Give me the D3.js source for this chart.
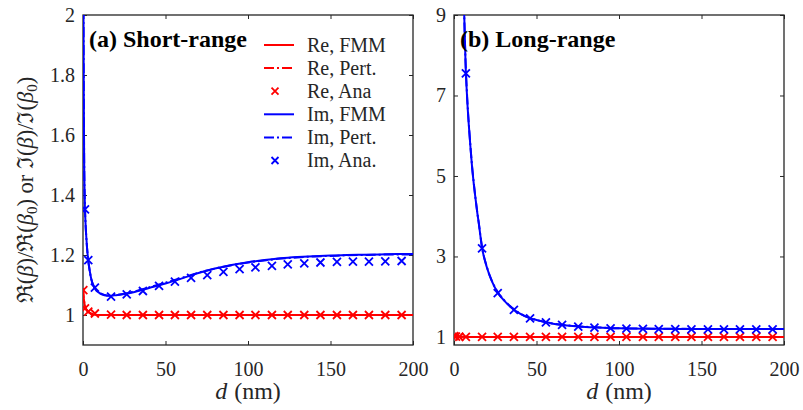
<!DOCTYPE html>
<html>
<head>
<meta charset="utf-8">
<script src="https://cdn.jsdelivr.net/npm/d3@7"></script>
<style>
  html, body { margin: 0; padding: 0; background: #fff; }
  svg { display: block; }
</style>
</head>
<body>
<svg id="chart" width="803" height="410"></svg>
<script>
// ---------- data ----------
const xTicks = [0, 50, 100, 150, 200];
const yTicksA = [1, 1.2, 1.4, 1.6, 1.8, 2];
const yTicksB = [1, 3, 5, 7, 9];
const legendLabels = ["Re, FMM", "Re, Pert.", "Re, Ana", "Im, FMM", "Im, Pert.", "Im, Ana."];

// Panel (a) short-range: Im curves
const dA = [0.05, 0.1, 0.2, 0.3, 0.5, 0.7, 1, 1.5, 2, 3, 4, 5, 7, 10, 13, 16, 20, 25, 30, 40, 50, 60, 70, 80, 90, 100, 110, 120, 130, 140, 150, 160, 170, 180, 190, 200];
const imFMM_A = [4.0, 3.0, 2.3, 2.0, 1.7, 1.52, 1.40, 1.31, 1.26, 1.19, 1.15, 1.12, 1.09, 1.073, 1.066, 1.064, 1.066, 1.07, 1.075, 1.09, 1.105, 1.122, 1.14, 1.155, 1.167, 1.176, 1.183, 1.189, 1.193, 1.196, 1.198, 1.2, 1.201, 1.202, 1.203, 1.203];
const imPert_A = [4.0, 3.0, 2.3, 2.0, 1.7, 1.52, 1.40, 1.31, 1.26, 1.19, 1.15, 1.12, 1.091, 1.074, 1.067, 1.065, 1.067, 1.071, 1.077, 1.092, 1.108, 1.124, 1.141, 1.155, 1.166, 1.175, 1.182, 1.188, 1.192, 1.195, 1.197, 1.199, 1.2, 1.201, 1.202, 1.202];
// Panel (a): Re curves
const dReA = [0.1, 0.2, 0.5, 1, 1.5, 2, 3, 4, 6, 10, 200];
const reFMM_A = [1.09, 1.075, 1.055, 1.035, 1.025, 1.018, 1.011, 1.007, 1.003, 1.0, 1.0];
const rePert_A = [1.09, 1.076, 1.056, 1.036, 1.026, 1.019, 1.012, 1.008, 1.003, 1.0, 1.0];

// Panel (b) long-range: Im curves
const dB = [3, 4, 5, 6, 7, 8, 9, 10, 11, 12, 13, 14, 15, 17, 20, 23, 27, 30, 35, 40, 45, 50, 55, 60, 70, 80, 90, 100, 120, 140, 160, 180, 200];
const imFMM_B = [20, 15, 11.5, 9.3, 7.8, 6.9, 6.25, 5.7, 5.2, 4.8, 4.45, 4.12, 3.83, 3.22, 2.72, 2.38, 2.07, 1.92, 1.72, 1.58, 1.48, 1.42, 1.37, 1.33, 1.28, 1.25, 1.23, 1.215, 1.205, 1.2, 1.2, 1.2, 1.2];
const imPert_B = [20, 15, 11.6, 9.35, 7.85, 6.95, 6.28, 5.72, 5.22, 4.82, 4.46, 4.13, 3.84, 3.23, 2.73, 2.39, 2.08, 1.93, 1.73, 1.585, 1.485, 1.422, 1.372, 1.332, 1.282, 1.252, 1.232, 1.216, 1.206, 1.201, 1.2, 1.2, 1.2];
// Panel (b): Re curves
const dReB = [0.05, 0.5, 1, 2, 4, 10, 200];
const reFMM_B = [1.05, 1.03, 1.02, 1.01, 1.005, 1.0, 1.0];
const rePert_B = [1.05, 1.03, 1.02, 1.01, 1.005, 1.0, 1.0];

// Analytical markers (shared d grid)
const dAna = [0.2, 1.2, 3.2, 7.2, 17, 26.5, 36.3, 46.1, 55.7, 65.5, 75.3, 85.1, 94.9, 104.5, 114.5, 124.1, 134.1, 143.9, 153.9, 163.6, 173.3, 183.2, 193.1];
const reAna_A = [1.083, 1.022, 1.011, 1.005, 1.001, 1.0, 1.0, 1.0, 1.0, 1.0, 1.0, 1.0, 1.0, 1.0, 1.0, 1.0, 1.0, 1.0, 1.0, 1.0, 1.0, 1.0, 1.0];
const imAna_A = [null, 1.352, 1.183, 1.091, 1.061, 1.069, 1.080, 1.097, 1.111, 1.124, 1.133, 1.144, 1.153, 1.159, 1.164, 1.169, 1.172, 1.175, 1.177, 1.178, 1.178, 1.179, 1.180];
const reAna_B = [1.02, 1.01, 1.005, 1.003, 1.0, 1.0, 1.0, 1.0, 1.0, 1.0, 1.0, 1.0, 1.0, 1.0, 1.0, 1.0, 1.0, 1.0, 1.0, 1.0, 1.0, 1.0, 1.0];
const imAna_B = [null, null, null, 7.55, 3.2, 2.09, 1.67, 1.46, 1.36, 1.30, 1.256, 1.23, 1.215, 1.205, 1.2, 1.195, 1.192, 1.19, 1.19, 1.19, 1.19, 1.19, 1.19];

// ---------- drawing ----------
const RED = "#ff0000", BLUE = "#0000ff", AX = "#262626";
const FONT = "'Liberation Serif', 'Times New Roman', Times, 'DejaVu Serif', serif";
const svg = d3.select("#chart");
const plotTop = 15, plotBottom = 345;

function zip(xs, ys) { return xs.map((x, i) => [x, ys[i]]).filter(p => p[1] != null); }

function panel(id, x0, x1, yDomain, yTicks, title, series, markers) {
  const x = d3.scaleLinear().domain([0, 200]).range([x0, x1]);
  const y = d3.scaleLinear().domain(yDomain).range([plotBottom, plotTop]);
  const g = svg.append("g");
  g.append("clipPath").attr("id", "clip" + id)
    .append("rect").attr("x", x0).attr("y", plotTop).attr("width", x1 - x0).attr("height", plotBottom - plotTop);

  const tl = 4;
  const ax = g.append("g").attr("transform", `translate(0,${plotBottom})`)
    .call(d3.axisBottom(x).tickValues(xTicks).tickSize(-tl).tickPadding(17).tickFormat(d3.format("d")));
  const axT = g.append("g").attr("transform", `translate(0,${plotTop})`)
    .call(d3.axisTop(x).tickValues(xTicks).tickSize(-tl).tickFormat(""));
  const ay = g.append("g").attr("transform", `translate(${x0},0)`)
    .call(d3.axisLeft(y).tickValues(yTicks).tickSize(-tl).tickPadding(8).tickFormat(d => d3.format("~g")(d)));
  const ayR = g.append("g").attr("transform", `translate(${x1},0)`)
    .call(d3.axisRight(y).tickValues(yTicks).tickSize(-tl).tickFormat(""));
  [ax, axT, ay, ayR].forEach(a => {
    a.select(".domain").remove();
    a.attr("font-family", null);
    a.selectAll("line").attr("stroke", AX).attr("stroke-width", 1);
    a.selectAll("text").attr("font-size", 20).attr("fill", AX);
  });
  ax.selectAll("text").attr("dy", "0.71em");
  g.append("rect").attr("x", x0).attr("y", plotTop).attr("width", x1 - x0).attr("height", plotBottom - plotTop)
    .attr("fill", "none").attr("stroke", AX).attr("stroke-width", 1.3);

  const plot = g.append("g").attr("clip-path", `url(#clip${id})`);
  const line = d3.line().x(d => x(d[0])).y(d => y(d[1])).curve(d3.curveMonotoneX);
  series.forEach(s => {
    plot.append("path").datum(zip(s.d, s.v)).attr("d", line)
      .attr("fill", "none").attr("stroke", s.c).attr("stroke-width", 2)
      .attr("stroke-dasharray", s.dash || null);
  });
  markers.forEach(m => {
    const pts = zip(dAna, m.v);
    plot.selectAll(null).data(pts).enter().append("path")
      .attr("transform", d => `translate(${x(d[0])},${y(d[1])})`)
      .attr("d", "M-4,-4L4,4M-4,4L4,-4")
      .attr("stroke", m.c).attr("stroke-width", 1.8).attr("fill", "none");
  });

  g.append("text").attr("x", x0 + 6).attr("y", 47).attr("font-size", 24).attr("font-weight", "bold")
    .attr("fill", "#000").text(title);

  const xl = g.append("text").attr("x", (x0 + x1) / 2).attr("y", 399).attr("text-anchor", "middle")
    .attr("font-size", 24).attr("fill", AX);
  xl.append("tspan").attr("font-style", "italic").text("d");
  xl.append("tspan").attr("dx", 7).text("(nm)");
  return { x, y };
}

panel("A", 83, 413, [0.9, 2], yTicksA, "(a) Short-range",
  [
    { d: dReA, v: reFMM_A, c: RED },
    { d: dReA, v: rePert_A, c: RED, dash: "10,3,2,3" },
    { d: dA, v: imFMM_A, c: BLUE },
    { d: dA, v: imPert_A, c: BLUE, dash: "10,3,2,3" }
  ],
  [{ v: reAna_A, c: RED }, { v: imAna_A, c: BLUE }]);

panel("B", 454, 784, [0.8, 9], yTicksB, "(b) Long-range",
  [
    { d: dReB, v: reFMM_B, c: RED },
    { d: dReB, v: rePert_B, c: RED, dash: "10,3,2,3" },
    { d: dB, v: imFMM_B, c: BLUE },
    { d: dB, v: imPert_B, c: BLUE, dash: "10,3,2,3" }
  ],
  [{ v: reAna_B, c: RED }, { v: imAna_B, c: BLUE }]);

const legendStyles = [
  { c: RED, type: "line" }, { c: RED, type: "dash" }, { c: RED, type: "x" },
  { c: BLUE, type: "line" }, { c: BLUE, type: "dash" }, { c: BLUE, type: "x" }
];
const lg = svg.append("g");
legendLabels.forEach((lab, i) => {
  const yy = 45 + i * 23.1;
  const st = legendStyles[i];
  if (st.type === "x") {
    lg.append("path").attr("transform", `translate(275,${yy})`).attr("d", "M-3.5,-3.5L3.5,3.5M-3.5,3.5L3.5,-3.5")
      .attr("stroke", st.c).attr("stroke-width", 1.8);
  } else {
    lg.append("line").attr("x1", 264).attr("x2", 294).attr("y1", yy).attr("y2", yy)
      .attr("stroke", st.c).attr("stroke-width", 2)
      .attr("stroke-dasharray", st.type === "dash" ? "10,3,2,3" : null);
  }
  lg.append("text").attr("x", 307).attr("y", yy).attr("dy", "0.33em").attr("font-size", 20).attr("fill", AX).text(lab);
});

const yl = svg.append("text").attr("transform", "translate(33,190) rotate(-90)")
  .attr("text-anchor", "middle").attr("font-size", 22.5).attr("fill", AX);
function beta(t, sub) {
  t.append("tspan").attr("font-style", "italic").text("β");
  if (sub) {
    t.append("tspan").attr("font-size", 15).attr("dy", 4).text("0");
    t.append("tspan").attr("dy", -4).text(")");
  } else t.append("tspan").text(")");
}
yl.append("tspan").text("ℜ("); beta(yl, false);
yl.append("tspan").text("/ℜ("); beta(yl, true);
yl.append("tspan").text(" or ℑ("); beta(yl, false);
yl.append("tspan").text("/ℑ("); beta(yl, true);

svg.selectAll("text").style("font-family", FONT);
</script>
</body>
</html>
